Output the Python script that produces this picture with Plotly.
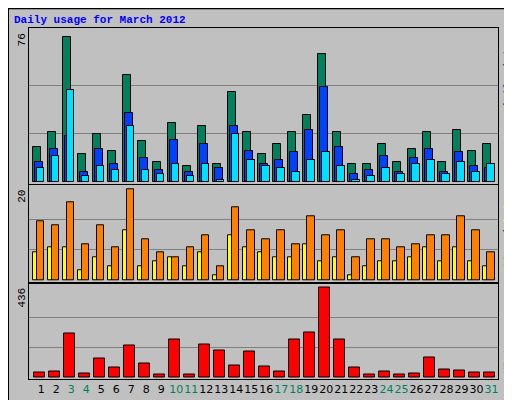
import plotly.graph_objects as go
from plotly.subplots import make_subplots

days = list(range(1, 32))
weekend = [3, 4, 10, 11, 17, 18, 24, 25, 31]

hits = [18.2, 26.4, 76, 14.6, 25.4, 16.1, 56.3, 21.3, 10.5, 31, 8.4, 29.5, 9.4, 47, 26.4, 14.6,
        20.2, 26.4, 35.2, 67, 26.4, 9.4, 9.4, 20.2, 10.5, 17.2, 26.4, 10.5, 27.4, 16.1, 20.2]
files = [10.5, 17.2, 24.4, 5.3, 17.2, 9.4, 36.2, 12.5, 6.3, 22.3, 5.3, 20.2, 7.4, 29.5, 16.1, 9.4,
         11.5, 15.6, 27.4, 50, 18.2, 4.3, 6.3, 13.5, 5.3, 12.5, 17.2, 5.3, 15.6, 8.4, 7.4]
pages = [7.4, 13.5, 48, 3.3, 8.4, 6.3, 29.5, 6.3, 4.3, 9.4, 3.3, 9.4, 1.2, 25.4, 11.5, 8.4,
         7.4, 5.3, 11.5, 15.6, 8.4, 1.2, 3.3, 7.4, 4.3, 9.4, 11.5, 4.3, 10.5, 5.3, 9.4]
visits = [6.1, 7.2, 7.2, 2.2, 5, 3, 11.1, 3, 4.1, 5, 3, 6.1, 1.1, 10, 7.2, 6.1,
          5, 5, 8, 4.1, 5, 1.1, 3, 4.1, 4.1, 5, 7.2, 4.1, 7.2, 4.1, 3]
sites = [13, 12.2, 17.2, 8, 12.2, 7.2, 20, 9.1, 6.1, 5, 7.2, 10, 3, 16.1, 11.1, 9.1,
         11.1, 8, 14.1, 10, 11.1, 5, 9.1, 9.1, 7.2, 8, 10, 10, 14.1, 11.1, 6.1]
kbytes = [25, 30, 212, 21, 92, 49, 154, 68, 16, 183, 16, 159, 130, 59, 126, 54,
          30, 183, 221, 436, 183, 49, 16, 30, 16, 21, 97, 40, 35, 25, 25]

C_HITS, C_FILES, C_PAGES = "#00805C", "#0040FF", "#00E0FF"
C_VIS, C_SITES, C_KB = "#FFFF00", "#FF8000", "#FF0000"
BG = "#C0C0C0"
FONT = "Liberation Mono"

fig = make_subplots(rows=3, cols=1, shared_xaxes=True, vertical_spacing=0.005,
                    row_heights=[158, 98, 97])

def bars(y, color, off, w, row):
    fig.add_trace(go.Bar(x=days, y=y, offset=off, width=w, marker=dict(color=color, line=dict(color="black", width=1))), row=row, col=1)

bars(hits, C_HITS, -0.53, 0.48, 1)
bars(files, C_FILES, -0.40, 0.48, 1)
bars(pages, C_PAGES, -0.27, 0.48, 1)
bars(visits, C_VIS, -0.53, 0.25, 2)
bars(sites, C_SITES, -0.29, 0.5, 2)
bars(kbytes, C_KB, -0.49, 0.72, 3)

ticktext = [f"<span style='color:{C_HITS}'>{d}</span>" if d in weekend else str(d) for d in days]

fig.update_layout(
    width=512, height=400, margin=dict(l=21, r=22, t=20, b=23),
    paper_bgcolor=BG, plot_bgcolor=BG, barmode="overlay", showlegend=False,
    font=dict(family=FONT, size=11, color="black"), bargap=0,
)
fig.update_xaxes(range=[0.18, 31.44], showgrid=False, zeroline=False, showline=True,
                 linecolor="black", mirror=True, tickvals=days, ticktext=ticktext, ticks="",
                 tickangle=0, tickfont=dict(family="DejaVu Sans", size=11))
fig.update_yaxes(showticklabels=False, showline=True, linecolor="black", mirror=True,
                 zeroline=False, gridcolor="#808080", gridwidth=1, ticks="")
fig.update_yaxes(range=[-0.67, 80.6], tickvals=[25.33, 50.67], row=1, col=1)
fig.update_yaxes(range=[-0.37, 20.93], tickvals=[6.67, 13.33], row=2, col=1)
fig.update_yaxes(range=[-6.2, 456.5], tickvals=[145.3, 290.7], row=3, col=1)

fig.add_shape(type="rect", xref="paper", yref="paper", x0=-21/469, x1=1 + 21/469, y0=-23/357, y1=1 + 20/357,
              line=dict(color="black", width=2))

fig.add_annotation(text="<b>Daily usage for March 2012</b>", xref="paper", yref="paper",
                   x=-17/469, y=1 + 16/357, xanchor="left", yanchor="top", showarrow=False,
                   font=dict(family=FONT, size=11, color="#0000FF"))

def lab(text, y, xpix, color="black"):
    fig.add_annotation(text=text, xref="paper", yref="paper", x=(xpix - 21) / 469, y=(377 - y) / 357,
                       xanchor="center", yanchor="top", textangle=-90, showarrow=False,
                       font=dict(family=FONT, size=11, color=color))

lab("76", 24, 14)
lab("20", 183, 14)
lab("436", 282, 14)

# right-hand rotated legends, built word by word
for word, y0, color in [("Hits", 27, C_HITS), ("/", 54, "black"), ("Files", 60, C_FILES),
                        ("/", 94, "black"), ("Pages", 100, C_PAGES),
                        ("Visits", 183, C_VIS), ("/", 223, "black"), ("Sites", 229, C_SITES),
                        ("KBytes", 329, C_KB)]:
    lab(word, y0, 500, color)

fig.write_html("out.html")
